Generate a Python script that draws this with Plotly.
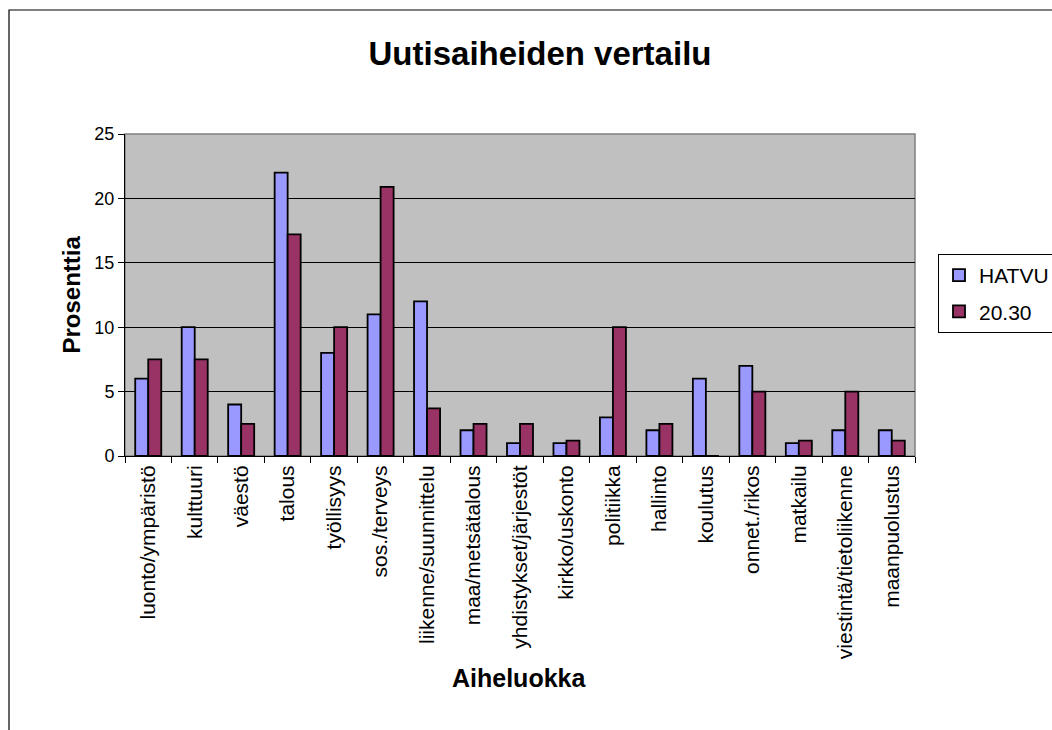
import plotly.graph_objects as go

categories = ["luonto/ympäristö", "kulttuuri", "väestö", "talous", "työllisyys", "sos./terveys",
              "liikenne/suunnittelu", "maa/metsätalous", "yhdistykset/järjestöt", "kirkko/uskonto",
              "politiikka", "hallinto", "koulutus", "onnet./rikos", "matkailu",
              "viestintä/tietoliikenne", "maanpuolustus"]
hatvu = [6, 10, 4, 22, 8, 11, 12, 2, 1, 1, 3, 2, 6, 7, 1, 2, 2]
s2030 = [7.5, 7.5, 2.5, 17.2, 10, 20.9, 3.7, 2.5, 2.5, 1.2, 10, 2.5, 0, 5, 1.2, 5, 1.2]
y_ticks = [0, 5, 10, 15, 20, 25]

FONT = "Liberation Sans, Arial, sans-serif"

fig = go.Figure()
fig.add_trace(go.Bar(x=categories, y=hatvu, name="HATVU", legendgroup="a",
                     marker=dict(color="#9999FF", line=dict(color="black", width=1.8))))
fig.add_trace(go.Bar(x=categories, y=s2030, name="20.30", legendgroup="b",
                     marker=dict(color="#993366", line=dict(color="black", width=1.8))))

L, R, T, B = 125, 915, 134, 456
W, H = 1052, 730
pw, ph = R - L, B - T

def px_x(v):
    return (v - L) / pw

def px_y(v):
    return (B - v) / ph

fig.update_layout(
    width=W, height=H,
    margin=dict(l=L, r=W - R, t=T, b=H - B, autoexpand=False),
    paper_bgcolor="white",
    plot_bgcolor="#C0C0C0",
    barmode="group",
    bargap=0.44,
    bargroupgap=0,
    font=dict(family=FONT, color="black"),
    title=dict(text="<b>Uutisaiheiden vertailu</b>", x=540 / W, xref="container",
               xanchor="center", y=1 - 53 / H, yref="container", yanchor="middle",
               font=dict(size=33, family=FONT, color="black")),
    xaxis=dict(type="category", tickangle=-90, tickfont=dict(size=21, family=FONT),
               ticks="outside", tickson="boundaries", ticklen=6, tickcolor="black",
               showline=True, linecolor="black", linewidth=1, showgrid=False,
               automargin=False),
    yaxis=dict(range=[0, 25], tickvals=y_ticks, tickfont=dict(size=18, family=FONT),
               ticks="outside", ticklen=6, tickcolor="black",
               showline=True, linecolor="black", linewidth=1,
               showgrid=True, gridcolor="black", gridwidth=1, zeroline=False,
               automargin=False),
    legend=dict(x=px_x(938), xanchor="left", y=px_y(254), yanchor="top",
                bgcolor="white", bordercolor="black", borderwidth=1,
                font=dict(size=21, family=FONT), tracegroupgap=6,
                itemwidth=30),
    showlegend=True,
)

# plot area border (grey) like Excel
fig.add_shape(type="rect", xref="paper", yref="paper", x0=0, x1=1, y0=0, y1=1,
              line=dict(color="#808080", width=1.5), layer="below")
# outer chart border
fig.add_shape(type="rect", xref="paper", yref="paper",
              x0=px_x(9), x1=px_x(1070), y0=px_y(745), y1=px_y(10),
              line=dict(color="black", width=1.2))

fig.add_annotation(text="<b>Aiheluokka</b>", xref="paper", yref="paper",
                   x=px_x(519), y=px_y(694), showarrow=False,
                   font=dict(size=25, family=FONT, color="black"))
fig.add_annotation(text="<b>Prosenttia</b>", xref="paper", yref="paper",
                   x=px_x(55), y=px_y(295), showarrow=False, textangle=-90,
                   font=dict(size=24, family=FONT, color="black"))

fig.write_html("out.html", config={"displayModeBar": False},
               post_script="document.body.style.margin='0';")
